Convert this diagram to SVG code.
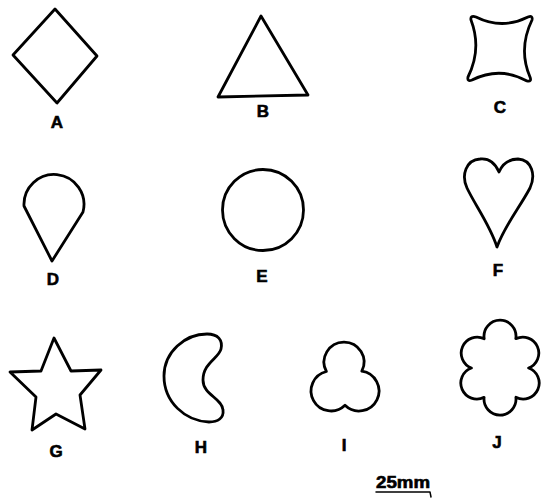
<svg xmlns="http://www.w3.org/2000/svg" width="545" height="498" viewBox="0 0 545 498">
<style>
.s{fill:none;stroke:#000;stroke-width:2.8;stroke-linejoin:round;stroke-linecap:round}
.l{font-family:"Liberation Sans",Arial,sans-serif;font-weight:bold;font-size:17px;fill:#000;stroke:#000;stroke-width:0.6;text-anchor:middle}
</style>
<rect width="545" height="498" fill="#fff"/>
<g id="A"><polygon class="s" points="55,9 97,56 57,103 13,55"/><text class="l" x="57" y="128">A</text></g>
<g id="B"><polygon class="s" points="261,16 308,95 218,97"/><text class="l" x="263" y="117">B</text></g>
<g id="C"><path class="s" d="M476 17 Q502 30 528 17 Q533 15 532 20 Q518 49 530 77 Q532 82 527 81 Q500 66 472 80 Q467 82 468 77 Q482 49 471 20 Q470 15 476 17 Z"/><text class="l" x="500" y="113">C</text></g>
<g id="D"><path class="s" d="M52 261 L24 206 A30 30 0 1 1 83 212 Z"/><text class="l" x="53" y="285">D</text></g>
<g id="E"><circle class="s" cx="263" cy="210" r="40.5"/><text class="l" x="262" y="282">E</text></g>
<g id="F"><path class="s" d="M497 247 C490 225 475 205 467 188 C461 175 466 160 480 159 C490 158 496 165 499 172 C502 165 508 159 518 159 C532 160 536 175 530 188 C520 207 505 225 497 247 Z"/><text class="l" x="498" y="276">F</text></g>
<g id="G"><polygon class="s" points="54,338 71,371 101,370 80,395 85,429 56,414 32,430 36,397 10,372 41,371"/><text class="l" x="56" y="457">G</text></g>
<g id="H"><path class="s" d="M207 334 C218 334 223 340 221 349 C219 358 203 363 203 380 C203 395 222 398 223 410 C224 418 218 422 209 422 C185 421 164 402 164 376 C164 352 185 334 207 334 Z"/><text class="l" x="201" y="453">H</text></g>
<g id="I"><path class="s" d="M326.4 371.5 A20 20 0 1 1 361.8 371.2 A20 20 0 1 1 345 405.3 A20 20 0 1 1 326.4 371.5 Z"/><text class="l" x="344" y="451">I</text></g>
<g id="J"><path class="s" d="M484.2 338.7 A16 16 0 1 1 515.8 338.7 A16 16 0 1 1 528.6 368 A16 16 0 1 1 515.9 397.3 A16 16 0 1 1 484.1 397.3 A16 16 0 1 1 471.4 368 A16 16 0 1 1 484.2 338.7 Z"/><text class="l" x="497" y="448">J</text></g>
<g id="scale"><text class="l" x="403" y="488" textLength="54" lengthAdjust="spacingAndGlyphs" style="font-size:16px">25mm</text><polyline class="s" style="stroke-width:1.5" points="376,492 430,492 431,497"/></g>
</svg>
